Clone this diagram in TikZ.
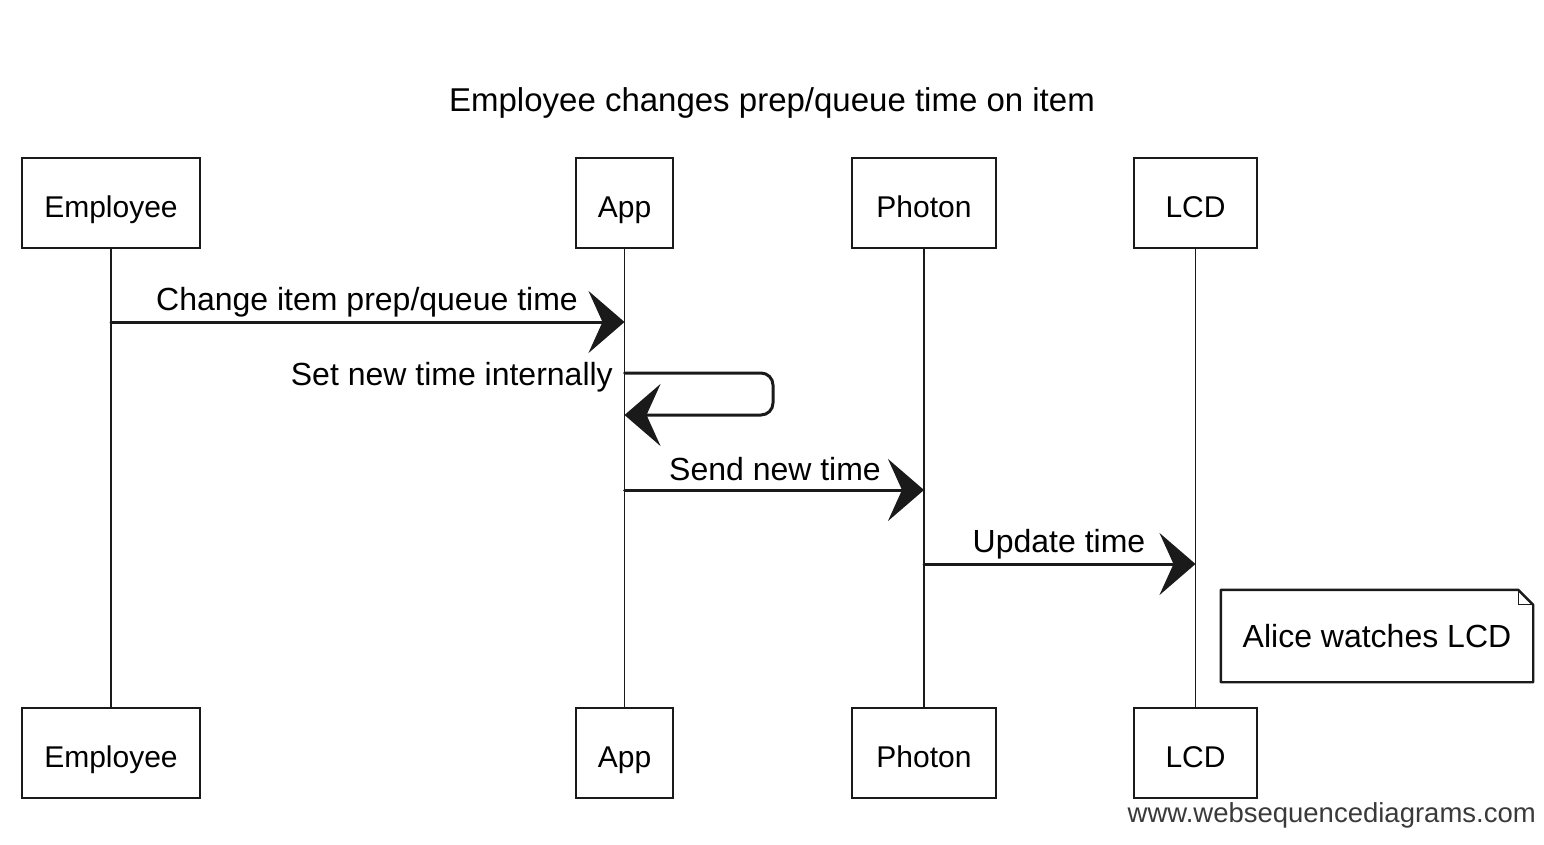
\documentclass[tikz,border=0pt]{standalone}
\usepackage{fontspec}
\setmainfont{Liberation Sans}
\usetikzlibrary{arrows.meta,calc}
\definecolor{ink}{HTML}{1A1A1A}
\definecolor{wm}{HTML}{3A3A3A}
\tikzset{
  part/.style={draw=ink, line width=2.4pt, minimum height=90pt, inner sep=0pt,
    text height=30pt, text depth=2pt,
    font=\fontsize{30}{34}\selectfont},
  life/.style={draw=ink, line width=1.8pt},
  msg/.style={draw=ink, line width=3pt, line cap=round,
    -{Stealth[length=36pt, width=62pt, inset=14pt]}},
  lbl/.style={inner sep=0pt, font=\fontsize{32}{36}\selectfont},
  ttl/.style={inner sep=0pt, font=\fontsize{33}{38}\selectfont},
  notebox/.style={draw=ink, line width=2.4pt, line join=round},
}
\begin{document}
\begin{tikzpicture}[x=1pt, y=-1pt]
\useasboundingbox (0,0) rectangle (1544,844);

% title
\node[ttl] (title) at (772,103) {Employee changes prep/queue time on item};

% participants (top)
\node[part, minimum width=178pt] (empT) at (111,203) {Employee};
\node[part, minimum width=97pt]  (appT) at (624.5,203) {App};
\node[part, minimum width=144pt] (phoT) at (924,203) {Photon};
\node[part, minimum width=123pt] (lcdT) at (1195.5,203) {LCD};

% participants (bottom)
\node[part, minimum width=178pt] (empB) at (111,753) {Employee};
\node[part, minimum width=97pt]  (appB) at (624.5,753) {App};
\node[part, minimum width=144pt] (phoB) at (924,753) {Photon};
\node[part, minimum width=123pt] (lcdB) at (1195.5,753) {LCD};

% lifelines
\draw[life] (empT.south) -- (empB.north);
\draw[life] (appT.south) -- (appB.north);
\draw[life] (phoT.south) -- (phoB.north);
\draw[life] (lcdT.south) -- (lcdB.north);

% message rows
\coordinate (r1) at (0,322);
\coordinate (r2a) at (0,373);
\coordinate (r2b) at (0,415);
\coordinate (r3) at (0,490);
\coordinate (r4) at (0,564);

% message 1
\draw[msg] (empT.south |- r1) -- (appT.south |- r1);
\node[lbl] (l1) at (367,302) {Change item prep/queue time};

% self message
\draw[msg, rounded corners=12pt] (appT.south |- r2a) -- (773,373) -- (773,415) -- (appT.south |- r2b);
\node[lbl, anchor=east] (l2) at (613,377) {Set new time internally};

% message 3
\draw[msg] (appT.south |- r3) -- (phoT.south |- r3);
\node[lbl] (l3) at (775,469) {Send new time};

% message 4
\draw[msg] (phoT.south |- r4) -- (lcdT.south |- r4);
\node[lbl] (l4) at (1059,544) {Update time};

% note
\node[lbl, minimum width=312pt, minimum height=92pt] (note) at (1377,636) {Alice watches LCD};
\draw[notebox] (note.north west) -- ($(note.north east)+(-15,0)$) -- ($(note.north east)+(0,15)$)
  -- (note.south east) -- (note.south west) -- cycle;
\draw[ink, line width=1.2pt] ($(note.north east)+(-15,0)$) -- ($(note.north east)+(-15,15)$) -- ($(note.north east)+(0,15)$);

% watermark
\node[inner sep=0pt, anchor=east, text=wm, font=\fontsize{27.5}{32}\selectfont] (wmk) at (1536,815) {www.websequencediagrams.com};
\end{tikzpicture}
\end{document}
